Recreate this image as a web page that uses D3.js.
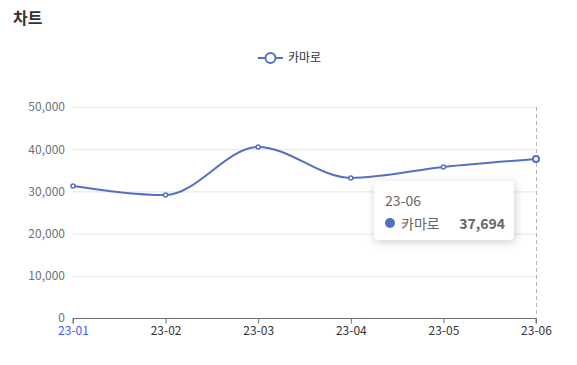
<!DOCTYPE html>
<html>
<head>
<meta charset="utf-8">
<script src="https://cdn.jsdelivr.net/npm/d3@7"></script>
<style>
  body { margin: 0; background: #fff; font-family: "Noto Sans CJK KR", "Noto Sans", sans-serif; }
  #wrap { position: relative; width: 577px; height: 365px; }
  #tip {
    position: absolute; left: 374px; top: 181px; width: 140px; height: 59px;
    background: #fff; border-radius: 4px; box-shadow: 1px 2px 10px rgba(0,0,0,0.2);
    box-sizing: border-box; font-size: 14px; color: #666;
  }
</style>
</head>
<body>
<div id="wrap">
  <svg width="577" height="365"></svg>
  <div id="tip"></div>
</div>
<script>
// chart data
const months = ["23-01", "23-02", "23-03", "23-04", "23-05", "23-06"];
const camaro = [31300, 29150, 40550, 33200, 35800, 37694];
const yTicks = [0, 10000, 20000, 30000, 40000, 50000];
const seriesName = "카마로";
const hoverIndex = 5;

const margin = { top: 107, right: 41, bottom: 47, left: 73 };
const width = 577, height = 365;
const color = "#5470c6";

let svg = d3.select("svg");

// title
svg.append("text")
    .attr("x", 13).attr("y", 24)
    .attr("font-size", 16).attr("font-weight", "bold")
    .attr("fill", "#333")
    .text("차트");

// scales
let scaleX = d3.scalePoint()
    .domain(months)
    .range([margin.left, width - margin.right]);

let scaleY = d3.scaleLinear()
    .domain([0, 50000])
    .range([height - margin.bottom, margin.top]);

// grid lines
svg.append("g")
    .selectAll("line")
    .data(yTicks.slice(1))
    .enter()
    .append("line")
    .attr("x1", margin.left).attr("x2", width - margin.right)
    .attr("y1", d => scaleY(d) + 0.5).attr("y2", d => scaleY(d) + 0.5)
    .attr("stroke", "#e0e6f1");

// y axis labels
let yAxis = svg.append("g")
    .attr("transform", "translate(" + margin.left + ",0)")
    .call(d3.axisLeft(scaleY).tickValues(yTicks).tickFormat(d3.format(",")).tickSize(0).tickPadding(8));
yAxis.select(".domain").remove();
yAxis.selectAll("text").attr("fill", "#6e7079").attr("font-size", 12)
    .attr("font-family", "'Noto Sans CJK KR', sans-serif");

// hover pointer line
svg.append("line")
    .attr("x1", scaleX(months[hoverIndex]) + 0.5).attr("x2", scaleX(months[hoverIndex]) + 0.5)
    .attr("y1", margin.top).attr("y2", scaleY(0))
    .attr("stroke", "#b6b6b6").attr("stroke-dasharray", "4,3");

// x axis
let xAxis = svg.append("g")
    .attr("transform", "translate(0," + (scaleY(0) + 0.5) + ")")
    .call(d3.axisBottom(scaleX).tickSize(5).tickPadding(3));
xAxis.select(".domain").attr("stroke", "#6e7079").attr("d", "M" + margin.left + ",5V0H" + (width - margin.right) + "V5");
xAxis.selectAll("line").attr("stroke", "#6e7079");
xAxis.selectAll("text").attr("fill", (d, i) => i === 0 ? "#3d5afe" : "#333").attr("font-size", 12)
    .attr("font-family", "'Noto Sans CJK KR', sans-serif");

// line
let line = d3.line()
    .x((d, i) => scaleX(months[i]))
    .y(d => scaleY(d))
    .curve(d3.curveMonotoneX);

svg.append("path")
    .datum(camaro)
    .attr("d", line)
    .attr("fill", "none")
    .attr("stroke", color)
    .attr("stroke-width", 2);

// points
svg.append("g")
    .selectAll("circle")
    .data(camaro)
    .enter()
    .append("circle")
    .attr("cx", (d, i) => scaleX(months[i]))
    .attr("cy", d => scaleY(d))
    .attr("r", (d, i) => i === hoverIndex ? 3 : 2)
    .attr("fill", "#fff")
    .attr("stroke", color)
    .attr("stroke-width", (d, i) => i === hoverIndex ? 2 : 1.5);

// legend
let legend = svg.append("g").attr("transform", "translate(258,58)");
legend.append("line").attr("x1", 0).attr("x2", 25).attr("y1", 0).attr("y2", 0)
    .attr("stroke", color).attr("stroke-width", 2);
legend.append("circle").attr("cx", 12.5).attr("cy", 0).attr("r", 5)
    .attr("fill", "#fff").attr("stroke", color).attr("stroke-width", 2);
legend.append("text").attr("x", 30).attr("y", 4).attr("font-size", 12).attr("fill", "#333")
    .text(seriesName);

// tooltip
let tip = d3.select("#tip");
tip.append("div")
    .style("position", "absolute").style("left", "11px").style("top", "9px")
    .style("line-height", "20px")
    .text(months[hoverIndex]);
tip.append("div")
    .style("position", "absolute").style("left", "11px").style("top", "37px")
    .style("width", "10px").style("height", "10px").style("border-radius", "5px")
    .style("background", color);
tip.append("div")
    .style("position", "absolute").style("left", "27px").style("top", "32px")
    .style("line-height", "20px")
    .text(seriesName);
tip.append("div")
    .style("position", "absolute").style("right", "9px").style("top", "32px")
    .style("line-height", "20px").style("font-weight", "bold")
    .text(d3.format(",")(camaro[hoverIndex]));
</script>
</body>
</html>
